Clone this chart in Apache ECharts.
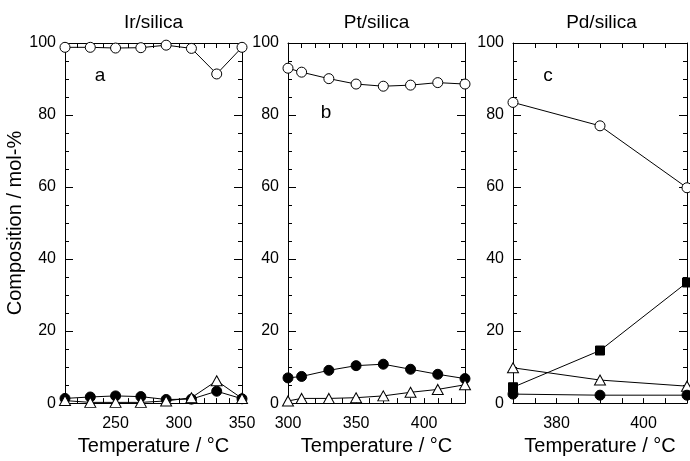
<!DOCTYPE html>
<html>
<head>
<meta charset="utf-8">
<script src="https://cdn.jsdelivr.net/npm/echarts@6/dist/echarts.min.js"></script>
<style>
  html, body { margin: 0; padding: 0; background: #fff; }
  #chart { width: 690px; height: 461px; }
</style>
</head>
<body>
<div id="chart"></div>
<script>
// Ir/silica (a)
const irTemp   = [210, 230, 250, 270, 290, 310, 330, 350];
const irOpen   = [98.8, 98.8, 98.6, 98.7, 99.4, 98.5, 91.4, 98.8];
const irFilled = [1.3, 1.7, 2.0, 1.8, 1.0, 1.1, 3.3, 1.2];
const irTri    = [0.7, 0.2, 0.2, 0.2, 0.6, 1.5, 6.2, 1.3];

// Pt/silica (b)
const ptTemp   = [300, 310, 330, 350, 370, 390, 410, 430];
const ptOpen   = [93.0, 91.9, 90.1, 88.6, 88.0, 88.3, 89.0, 88.6];
const ptFilled = [7.0, 7.4, 9.1, 10.4, 10.8, 9.4, 8.0, 6.8];
const ptTri    = [0.6, 1.3, 1.3, 1.5, 2.0, 3.0, 3.8, 5.1];

// Pd/silica (c)
const pdTemp   = [370, 390, 410];
const pdOpen   = [83.5, 77.0, 59.8];
const pdSquare = [4.4, 14.6, 33.5];
const pdTri    = [9.8, 6.4, 4.7];
const pdFilled = [2.5, 2.2, 2.2];

const titles  = ['Ir/silica', 'Pt/silica', 'Pd/silica'];
const letters = ['a', 'b', 'c'];
const xRanges = [[210, 350, 10, 50], [300, 430, 10, 50], [370, 410, 5, 20]];
const xName = 'Temperature / °C';
const yName = 'Composition / mol-%';

const FONT = '"Liberation Sans", Arial, sans-serif';
const lefts = [65, 288, 513];
const W = 177, TOP = 43, H = 370;

const zip = (xs, ys) => xs.map((x, i) => [x, ys[i]]);

const grids = lefts.map(l => ({ left: l, top: TOP, width: W, height: H, containLabel: false }));

const xAxes = [], yAxes = [];
xRanges.forEach(([min, max, step, lab], i) => {
  const base = {
    type: 'value', gridIndex: i, min, max, interval: step,
    axisLine: { onZero: false, lineStyle: { color: '#000', width: 1 } },
    axisTick: { inside: true, length: 5, lineStyle: { color: '#000' } },
    splitLine: { show: false }
  };
  xAxes.push(Object.assign({}, base, {
    position: 'bottom',
    axisLabel: { color: '#000', fontSize: 16, fontFamily: FONT, margin: 12,
      formatter: v => (v % lab === 0 ? String(v) : '') },
    name: xName, nameLocation: 'middle', nameGap: 32,
    nameTextStyle: { color: '#000', fontSize: 20, fontFamily: FONT }
  }));
  xAxes.push(Object.assign({}, base, { position: 'top', axisLabel: { show: false } }));

  const ybase = {
    type: 'value', gridIndex: i, min: 0, max: 100, interval: 20,
    axisLine: { onZero: false, lineStyle: { color: '#000', width: 1 } },
    axisTick: { inside: true, length: 8, lineStyle: { color: '#000' } },
    minorTick: { show: true, splitNumber: 4, length: 4, lineStyle: { color: '#000' } },
    splitLine: { show: false }
  };
  yAxes.push(Object.assign({}, ybase, {
    position: 'left',
    axisLabel: { color: '#000', fontSize: 16, fontFamily: FONT, margin: 9 },
    name: i === 0 ? yName : '', nameLocation: 'middle', nameGap: 34,
    nameTextStyle: { color: '#000', fontSize: 20, fontFamily: FONT }
  }));
  yAxes.push(Object.assign({}, ybase, { position: 'right', axisLabel: { show: false } }));
});

function ser(panel, xs, ys, kind) {
  const styles = {
    open:   { symbol: 'circle',   size: 10, color: '#fff' },
    filled: { symbol: 'circle',   size: 10, color: '#000' },
    tri:    { symbol: 'triangle', size: [11, 10], color: '#fff' },
    square: { symbol: 'rect',     size: 9,  color: '#000' }
  }[kind];
  return {
    type: 'line', xAxisIndex: panel * 2, yAxisIndex: panel * 2,
    data: zip(xs, ys), symbol: styles.symbol, symbolSize: styles.size,
    showAllSymbol: true, clip: false, animation: false,
    lineStyle: { color: '#000', width: 1 },
    itemStyle: { color: styles.color, borderColor: '#000', borderWidth: 1, opacity: 1 }
  };
}

const series = [
  ser(0, irTemp, irOpen, 'open'),
  ser(0, irTemp, irFilled, 'filled'),
  ser(0, irTemp, irTri, 'tri'),
  ser(1, ptTemp, ptOpen, 'open'),
  ser(1, ptTemp, ptFilled, 'filled'),
  ser(1, ptTemp, ptTri, 'tri'),
  ser(2, pdTemp, pdOpen, 'open'),
  ser(2, pdTemp, pdTri, 'tri'),
  ser(2, pdTemp, pdFilled, 'filled'),
  ser(2, pdTemp, pdSquare, 'square')
];

const letterPos = [[100, 76], [326, 113], [548, 76]];
const graphic = [];
titles.forEach((t, i) => {
  graphic.push({ type: 'text', x: lefts[i] + W / 2, y: 23,
    style: { text: t, font: '19px ' + FONT, align: 'center', verticalAlign: 'middle', fill: '#000' } });
  graphic.push({ type: 'text', x: letterPos[i][0], y: letterPos[i][1],
    style: { text: letters[i], font: '19px ' + FONT, align: 'center', verticalAlign: 'middle', fill: '#000' } });
});

const chart = echarts.init(document.getElementById('chart'), null, { renderer: 'canvas' });
chart.setOption({
  animation: false,
  backgroundColor: '#fff',
  textStyle: { fontFamily: FONT },
  grid: grids,
  xAxis: xAxes,
  yAxis: yAxes,
  series,
  graphic
});
</script>
</body>
</html>
